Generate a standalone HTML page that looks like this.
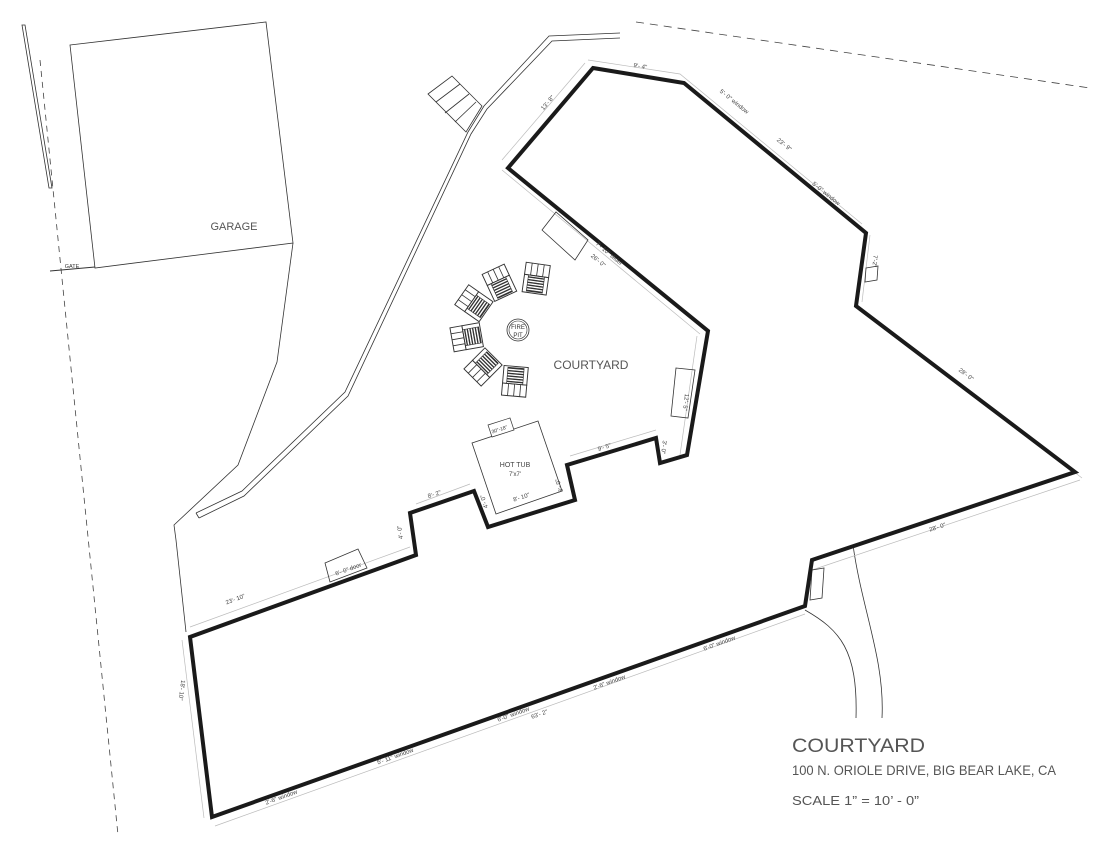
<!DOCTYPE html>
<html><head><meta charset="utf-8"><style>
html,body{margin:0;padding:0;background:#fff;}
svg{display:block;font-family:"Liberation Sans",sans-serif;}
.thin{fill:none;stroke:#333;stroke-width:0.8}
.dim{fill:none;stroke:#bbb;stroke-width:0.7}
.d{font-size:6px;fill:#444}
</style></head><body>
<svg width="1100" height="850" viewBox="0 0 1100 850" xmlns="http://www.w3.org/2000/svg">
<defs>
<pattern id="hatch" width="2" height="2" patternUnits="userSpaceOnUse"><rect width="2" height="1" fill="#333"/></pattern>
<g id="chair">
<rect x="-9" y="-12" width="18" height="9" fill="#fff" stroke="#333" stroke-width="0.7"/>
<line x1="-4.5" y1="-12" x2="-4.5" y2="-3" stroke="#333" stroke-width="0.6"/>
<line x1="0" y1="-12" x2="0" y2="-3" stroke="#333" stroke-width="0.6"/>
<line x1="4.5" y1="-12" x2="4.5" y2="-3" stroke="#333" stroke-width="0.6"/>
<rect x="-9" y="-3" width="18" height="13" fill="#fff" stroke="#333" stroke-width="0.7"/>
<rect x="-6" y="-3" width="12" height="12" fill="url(#hatch)" stroke="#333" stroke-width="0.5"/>
</g>
</defs>

<line x1="40" y1="60" x2="118" y2="835" stroke="#444" stroke-width="0.8" stroke-dasharray="6,5"/>
<polygon points="22,25 25,25 52,188 49,188" class="thin"/>
<line x1="636" y1="22" x2="1090" y2="88" stroke="#444" stroke-width="0.8" stroke-dasharray="8,6"/>

<polygon points="70,45 266,22 293,243 95,268" class="thin"/>
<text x="234" y="230" font-size="11" fill="#555" text-anchor="middle">GARAGE</text>
<line x1="50" y1="271" x2="95" y2="267" stroke="#333" stroke-width="1"/>
<text x="72" y="268" font-size="5.5" fill="#333" text-anchor="middle">GATE</text>

<polyline points="293,243 277,362 238,465 174,525 176,540 186,632" class="thin"/>

<polyline points="196,513 242,491 345,392 468,132 484,106 549,36 620,33" class="thin"/>
<polyline points="199,518 244,496 348,396 471,134 487,109 552,41 620,38" class="thin"/>
<line x1="196" y1="513" x2="199" y2="518" class="thin"/>
<polygon points="428,94 452,76 482,106 466,132" class="thin"/>
<line x1="436" y1="102" x2="460" y2="84" class="thin"/>
<line x1="445" y1="113" x2="469" y2="94" class="thin"/>
<line x1="455" y1="122" x2="476" y2="102" class="thin"/>

<path d="M805,610 C840,630 858,650 856,718" class="thin"/>
<path d="M853,545 C862,610 885,660 882,718" class="thin"/>

<polyline points="588,60 680,74 862,224" class="dim"/>
<line x1="585" y1="63" x2="502" y2="160" class="dim"/>
<line x1="502" y1="170" x2="700" y2="334" class="dim"/>
<line x1="870" y1="235" x2="862" y2="302" class="dim"/>
<line x1="862" y1="310" x2="1082" y2="478" class="dim"/>
<line x1="812" y1="570" x2="1080" y2="480" class="dim"/>
<line x1="215" y1="826" x2="805" y2="614" class="dim"/>
<line x1="182" y1="640" x2="204" y2="818" class="dim"/>
<line x1="190" y1="627" x2="410" y2="547" class="dim"/>
<line x1="416" y1="504" x2="470" y2="484" class="dim"/>
<line x1="570" y1="456" x2="656" y2="430" class="dim"/>
<line x1="697" y1="336" x2="680" y2="455" class="dim"/>

<polygon points="542,230 556,212 588,240 575,260" class="thin"/>
<polygon points="676,368 695,370 688,418 671,416" class="thin"/>
<polygon points="325,563 358,549 367,568 330,582" class="thin"/>
<polygon points="812,570 824,568 822,598 810,600" class="thin"/>
<polygon points="866,268 878,266 877,280 865,282" class="thin"/>

<polygon points="593,68 684,83 866,233 856,306 1075,472 812,560 805,606 212,817 190,637 416,555 410,513 474,491 488,527 575,500 567,465 656,438 660,463 687,455 708,331 508,168" fill="none" stroke="#1a1a1a" stroke-width="4" stroke-linejoin="miter"/>

<polygon points="472,443 538,421 562,491 496,514" fill="#fff" stroke="#333" stroke-width="0.8"/>
<polygon points="488,425 510,418 514,430 492,437" fill="#fff" stroke="#333" stroke-width="0.7"/>
<text x="500" y="431" font-size="5" fill="#333" transform="rotate(-18 500 431)" text-anchor="middle">30"-18"</text>
<text x="515" y="467" font-size="7" fill="#444" text-anchor="middle">HOT TUB</text>
<text x="515" y="476" font-size="6" fill="#444" text-anchor="middle">7'x7'</text>

<circle cx="518" cy="330" r="11" fill="#fff" stroke="#333" stroke-width="0.8"/>
<circle cx="518" cy="330" r="9" fill="none" stroke="#333" stroke-width="0.6"/>
<text x="518" y="329" font-size="6" fill="#333" text-anchor="middle">FIRE</text>
<text x="518" y="337" font-size="6" fill="#333" text-anchor="middle">PIT</text>
<use href="#chair" transform="translate(536,280) rotate(8) scale(1.35)"/>
<use href="#chair" transform="translate(500,284) rotate(-25) scale(1.35)"/>
<use href="#chair" transform="translate(475,304) rotate(-55) scale(1.35)"/>
<use href="#chair" transform="translate(468,337) rotate(-100) scale(1.35)"/>
<use href="#chair" transform="translate(484,366) rotate(-135) scale(1.35)"/>
<use href="#chair" transform="translate(515,380) rotate(-175) scale(1.35)"/>

<text x="591" y="369" font-size="12" fill="#555" text-anchor="middle">COURTYARD</text>

<text class="d" x="640" y="68" transform="rotate(9 640 68)" text-anchor="middle">9'- 4"</text>
<text class="d" x="549" y="104" transform="rotate(-50 549 104)" text-anchor="middle">13'- 8"</text>
<text class="d" x="733" y="103" transform="rotate(39 733 103)" text-anchor="middle">5'- 0" window</text>
<text class="d" x="783" y="146" transform="rotate(39 783 146)" text-anchor="middle">23'- 9"</text>
<text class="d" x="825" y="195" transform="rotate(39 825 195)" text-anchor="middle">5'-0" window</text>
<text class="d" x="873" y="261" transform="rotate(95 873 261)" text-anchor="middle">7'-2"</text>
<text class="d" x="965" y="376" transform="rotate(37 965 376)" text-anchor="middle">28'- 0"</text>
<text class="d" x="938" y="529" transform="rotate(-18 938 529)" text-anchor="middle">28'- 0"</text>
<text class="d" x="608" y="255" transform="rotate(40 608 255)" text-anchor="middle">7'- 10" slider</text>
<text class="d" x="597" y="262" transform="rotate(40 597 262)" text-anchor="middle">26'- 0"</text>
<text class="d" x="684" y="402" transform="rotate(97 684 402)" text-anchor="middle">12'- 5"</text>
<text class="d" x="662" y="447" transform="rotate(97 662 447)" text-anchor="middle">3'- 0"</text>
<text class="d" x="605" y="449" transform="rotate(-18 605 449)" text-anchor="middle">9'- 5"</text>
<text class="d" x="561" y="485" transform="rotate(-108 561 485)" text-anchor="middle">3'- 0"</text>
<text class="d" x="522" y="499" transform="rotate(-18 522 499)" text-anchor="middle">8'- 10"</text>
<text class="d" x="486" y="501" transform="rotate(-108 486 501)" text-anchor="middle">4'- 0"</text>
<text class="d" x="435" y="496" transform="rotate(-18 435 496)" text-anchor="middle">8'- 2"</text>
<text class="d" x="402" y="532" transform="rotate(-98 402 532)" text-anchor="middle">4'- 0"</text>
<text class="d" x="349" y="571" transform="rotate(-20 349 571)" text-anchor="middle">6'- 0" door</text>
<text class="d" x="236" y="601" transform="rotate(-20 236 601)" text-anchor="middle">23'- 10"</text>
<text class="d" x="180" y="690" transform="rotate(97 180 690)" text-anchor="middle">18'- 10"</text>
<text class="d" x="720" y="645" transform="rotate(-20 720 645)" text-anchor="middle">6'-0" window</text>
<text class="d" x="610" y="684" transform="rotate(-20 610 684)" text-anchor="middle">2'-6" window</text>
<text class="d" x="514" y="716" transform="rotate(-20 514 716)" text-anchor="middle">6'-0" window</text>
<text class="d" x="540" y="716" transform="rotate(-20 540 716)" text-anchor="middle">63'- 2"</text>
<text class="d" x="396" y="758" transform="rotate(-20 396 758)" text-anchor="middle">5'- 11" window</text>
<text class="d" x="282" y="799" transform="rotate(-20 282 799)" text-anchor="middle">2'-6" window</text>

<text x="792" y="752" font-size="19" fill="#555" textLength="133" lengthAdjust="spacingAndGlyphs">COURTYARD</text>
<text x="792" y="775" font-size="14" fill="#555" textLength="264" lengthAdjust="spacingAndGlyphs">100 N. ORIOLE DRIVE, BIG BEAR LAKE, CA</text>
<text x="792" y="805" font-size="13" fill="#555" textLength="127" lengthAdjust="spacingAndGlyphs">SCALE 1” = 10’ - 0”</text>
</svg>
</body></html>
